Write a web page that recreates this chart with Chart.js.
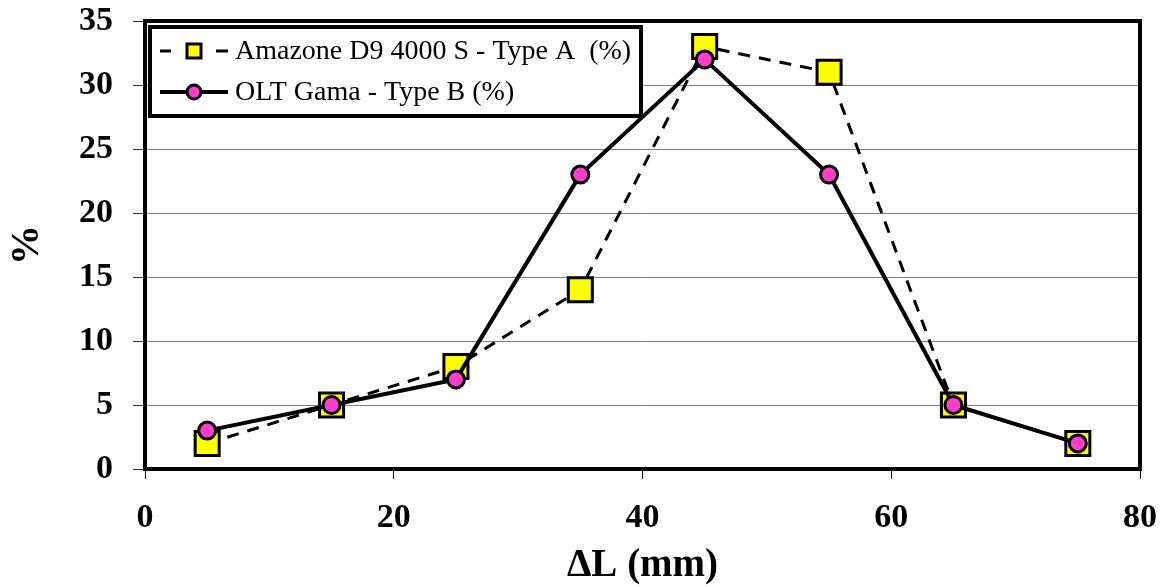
<!DOCTYPE html>
<html>
<head>
<meta charset="utf-8">
<script src="https://cdn.jsdelivr.net/npm/chart.js@4.4.0/dist/chart.umd.min.js"></script>
<style>
html,body{margin:0;padding:0;background:#fff;}
#wrap{width:1163px;height:587px;position:relative;}
</style>
</head>
<body>
<div id="wrap"><canvas id="c" width="1163" height="587"></canvas></div>
<script>
const xValues = [5, 15, 25, 35, 45, 55, 65, 75];
const seriesA = [2, 5, 8, 14, 33, 31, 5, 2];
const seriesB = [3, 5, 7, 23, 32, 23, 5, 2];
const labelA = 'Amazone D9 4000 S - Type A  (%)';
const labelB = 'OLT Gama - Type B (%)';
const xTicks = [0, 20, 40, 60, 80];
const yTicks = [0, 5, 10, 15, 20, 25, 30, 35];

const SERIF = '"Liberation Serif","Times New Roman",Times,serif';
const yellow = '#FFFF00';
const magenta = '#FF3FCB';

const toPts = (ys) => xValues.map((x, i) => ({x: x, y: ys[i]}));

const frameAndLegend = {
  id: 'frameAndLegend',
  afterDraw(chart) {
    const ctx = chart.ctx;
    const a = chart.chartArea;
    ctx.save();
    ctx.strokeStyle = '#000';
    ctx.lineWidth = 4;
    ctx.strokeRect(a.left, a.top, a.right - a.left, a.bottom - a.top);
    const lx = 150, ly = 27, lw = 491, lh = 89;
    ctx.fillStyle = '#fff';
    ctx.fillRect(lx, ly, lw, lh);
    ctx.lineWidth = 4;
    ctx.strokeRect(lx, ly, lw, lh);
    ctx.font = '28px ' + SERIF;
    ctx.textBaseline = 'middle';
    ctx.textAlign = 'left';
    const rows = [
      {y: 51, ds: chart.data.datasets[0], text: labelA},
      {y: 92, ds: chart.data.datasets[1], text: labelB}
    ];
    rows.forEach(r => {
      ctx.strokeStyle = '#000';
      ctx.lineWidth = r.ds.borderWidth;
      ctx.beginPath();
      if (r.ds.borderDash && r.ds.borderDash.length) {
        ctx.moveTo(160, r.y); ctx.lineTo(171, r.y);
        ctx.moveTo(216, r.y); ctx.lineTo(228, r.y);
      } else {
        ctx.moveTo(160, r.y); ctx.lineTo(228, r.y);
      }
      ctx.stroke();
      ctx.lineWidth = 3;
      ctx.fillStyle = r.ds.pointBackgroundColor;
      ctx.beginPath();
      if (r.ds.pointStyle === 'rect') {
        ctx.rect(194 - 7, r.y - 7, 14, 14);
      } else {
        ctx.arc(194, r.y, 7, 0, Math.PI * 2);
      }
      ctx.fill();
      ctx.stroke();
      ctx.fillStyle = '#000';
      ctx.fillText(r.text, 235, r.y + 1);
    });
    ctx.restore();
  }
};

new Chart(document.getElementById('c'), {
  type: 'line',
  data: {
    datasets: [
      {
        label: labelA,
        data: toPts(seriesA),
        borderColor: '#000',
        borderWidth: 3,
        borderDash: [12, 9],
        pointStyle: 'rect',
        pointRadius: 17,
        pointHoverRadius: 17,
        pointBackgroundColor: yellow,
        pointBorderColor: '#000',
        pointBorderWidth: 3,
        tension: 0,
        fill: false,
        order: 2,
        clip: false
      },
      {
        label: labelB,
        data: toPts(seriesB),
        borderColor: '#000',
        borderWidth: 4,
        pointStyle: 'circle',
        pointRadius: 8.5,
        pointHoverRadius: 8.5,
        pointBackgroundColor: magenta,
        pointBorderColor: '#000',
        pointBorderWidth: 3,
        tension: 0,
        fill: false,
        order: 1,
        clip: false
      }
    ]
  },
  options: {
    responsive: false,
    animation: false,
    events: [],
    layout: {padding: {top: 21, right: 23, left: 0, bottom: 0}},
    plugins: {legend: {display: false}, tooltip: {enabled: false}},
    scales: {
      x: {
        type: 'linear',
        min: 0, max: 80,
        afterBuildTicks: (s) => { s.ticks = xTicks.map(v => ({value: v})); },
        afterFit: (s) => { s.height = 118; s.paddingLeft = 0; s.paddingRight = 0; },
        grid: {drawOnChartArea: false, drawTicks: true, tickLength: 10, color: '#000', lineWidth: 1},
        border: {display: false},
        ticks: {color: '#000', font: {family: SERIF, size: 34, weight: 'bold'}, padding: 19, maxRotation: 0},
        title: {display: true, text: 'ΔL (mm)', color: '#000', font: {family: SERIF, size: 39, weight: 'bold'}, padding: {top: 0, bottom: -2}}
      },
      y: {
        type: 'linear',
        min: 0, max: 35,
        afterBuildTicks: (s) => { s.ticks = yTicks.map(v => ({value: v})); },
        afterFit: (s) => { s.width = 145; s.paddingTop = 0; s.paddingBottom = 0; },
        grid: {drawTicks: true, tickLength: 12, color: '#808080', tickColor: '#333', lineWidth: 1},
        border: {display: false},
        ticks: {color: '#000', font: {family: SERIF, size: 34, weight: 'bold'}, padding: 20},
        title: {display: true, text: '%', color: '#000', font: {family: SERIF, size: 40, weight: 'bold'}, padding: {top: 4, bottom: 0}}
      }
    }
  },
  plugins: [frameAndLegend]
});
</script>
</body>
</html>
